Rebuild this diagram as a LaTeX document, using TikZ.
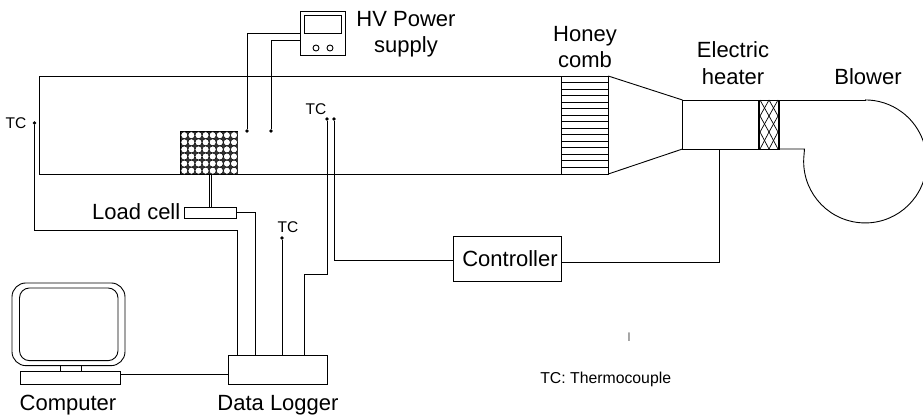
\documentclass[tikz,border=0pt]{standalone}
\usepackage{fontspec}
\setmainfont{Liberation Sans}
\begin{document}
\begin{tikzpicture}[
    x=1pt, y=-1pt,
    wire/.style={draw, line width=0.9pt},
    box/.style={draw, line width=0.9pt, rectangle, inner sep=0pt, outer sep=0pt},
    dot/.style={circle, fill=black, inner sep=0pt, outer sep=0pt, minimum size=3.6pt},
    biglabel/.style={font=\fontsize{22}{26.5}\selectfont, align=center, inner sep=0pt, anchor=base},
    smalllabel/.style={font=\fontsize{15.5}{18}\selectfont, inner sep=0pt, anchor=base},
]
\clip (0,0) rectangle (923,416);

% Nodes
\node[box, minimum width=45pt, minimum height=44pt] (power) at (322.5,33) {};
\node[box, minimum width=37pt, minimum height=18pt] (screen) at (322.5,24) {};
\node[box, circle, minimum size=6pt] (knobA) at (316,48) {};
\node[box, circle, minimum size=6pt] (knobB) at (330,48) {};

\node[box, minimum width=46.5pt, minimum height=98pt] (honey) at (585,125) {};
\node[box, minimum width=76.5pt, minimum height=49pt] (section) at (720.75,124.5) {};
\node[box, minimum width=20pt, minimum height=49pt] (heater) at (769,124.5) {};
\node[box, minimum width=57pt, minimum height=42.7pt] (bank) at (209.2,153) {};
\node[box, minimum width=52pt, minimum height=11pt] (cell) at (210,212.5) {};
\node[box, minimum width=108.5pt, minimum height=44.3pt] (ctrl) at (507.5,258.9) {\fontsize{22}{26}\selectfont\hspace{5pt}Controller};
\node[box, minimum width=99pt, minimum height=29pt] (logger) at (278,369.5) {};

\node[box, rounded corners=14pt, minimum width=113pt, minimum height=82.7pt] (screenout) at (68.5,324.3) {};
\node[box, rounded corners=10pt, minimum width=98.5pt, minimum height=72.7pt] (screenin) at (68.75,324.3) {};
\node[box, minimum width=21pt, minimum height=5.5pt] (neck) at (71,368.5) {};
\node[box, minimum width=100pt, minimum height=13pt] (pc) at (70,378) {};

\node[dot] (hvA) at (247,131) {};
\node[dot] (hvB) at (271,131) {};
\node[dot] (tcLeft) at (34.5,123) {};
\node[dot] (tcA) at (327,119) {};
\node[dot] (tcB) at (334,119) {};
\node[dot] (tcC) at (282,238) {};

\coordinate (hotA) at (39,76);
\coordinate (hotB) at (39,174);
\coordinate (logA) at (237.5,355);
\coordinate (logB) at (255,355);
\coordinate (logC) at (304,355);

% Labels
\node[biglabel, anchor=center] (hvtext) at (406,34) {HV Power\\supply};
\node[biglabel, anchor=center] (honeytext) at (585,47) {Honey\\comb};
\node[biglabel, anchor=center] (heatertext) at (733,63) {Electric\\heater};
\node[biglabel] (blowertext) at (868,84) {Blower};
\node[biglabel, anchor=base east] (celltext) at (180.5,219) {Load cell};
\node[biglabel] (pctext) at (68,410) {Computer};
\node[biglabel] (loggertext) at (278,410.5) {Data Logger};
\node[smalllabel] at (16,128) {TC};
\node[smalllabel] at (316,114) {TC};
\node[smalllabel] at (288,232) {TC};
\node[smalllabel, font=\fontsize{15.8}{18}\selectfont] at (605.7,383.5) {TC: Thermocouple};
\node[font=\fontsize{12.5}{14}\selectfont, text=black!60, inner sep=0pt] at (629,337.5) {I};

% Duct and blower
\draw[wire] (honey.north west) -- (hotA) -- (hotB) -- (honey.south west);
\draw[wire] (honey.north east) -- (section.north west);
\draw[wire] (honey.south east) -- (section.south west);
\draw[wire] (heater.north east) -- (866,100);
\draw[wire] (heater.south east) -- (804.5,149) -- (804,155)
    arc[start angle=186, end angle=-90, radius=61.5];

% Honeycomb and heater
\foreach \i in {1,...,14} {
    \draw[line width=0.9pt] (honey.north west) ++(0,6.53*\i) -- ++(46.5,0);
}
\foreach \xa/\xb in {760/769,769/778} {
    \draw[line width=0.7pt] (\xa,100) -- (\xb,116) -- (\xa,132) -- (\xb,149);
    \draw[line width=0.7pt] (\xb,100) -- (\xa,116) -- (\xb,132) -- (\xa,149);
}
\draw[line width=1.4pt] (heater.north west) -- (heater.south west);
\draw[line width=1.4pt] (heater.north east) -- (heater.south east);

% Tube bank
\fill[black!80] (bank.north west) rectangle (bank.south east);
\foreach \c in {0,...,7} {
    \foreach \r in {0,...,5} {
        \draw[fill=white, line width=0.5pt] (184.3+7.1*\c,135.2+7.1*\r) circle[radius=3.5pt];
    }
}

% Edges
\draw[wire] (power.west |- 0,33) -| (hvA);
\draw[wire] (power.west |- 0,40) -| (hvB);
\draw[wire] ([xshift=-1pt]cell.north) -- ([xshift=-1pt]cell.north |- hotB);
\draw[wire] ([xshift=1pt]cell.north) -- ([xshift=1pt]cell.north |- hotB);
\draw[wire] (cell.east) -| (logB);
\draw[wire] (tcLeft) |- (237.5,230) -- (logA);
\draw[wire] (tcC) -- (tcC |- logger.north);
\draw[wire] (tcA) |- (304,274) -- (logC);
\draw[wire] (tcB) |- ([yshift=-2pt]ctrl.west);
\draw[wire] ([yshift=-4pt]ctrl.east) -| (section.south -| 719,0);
\draw[wire] ([yshift=3.5pt]pc.east) -- ([yshift=3.5pt]pc.east -| logger.west);

\end{tikzpicture}
\end{document}
